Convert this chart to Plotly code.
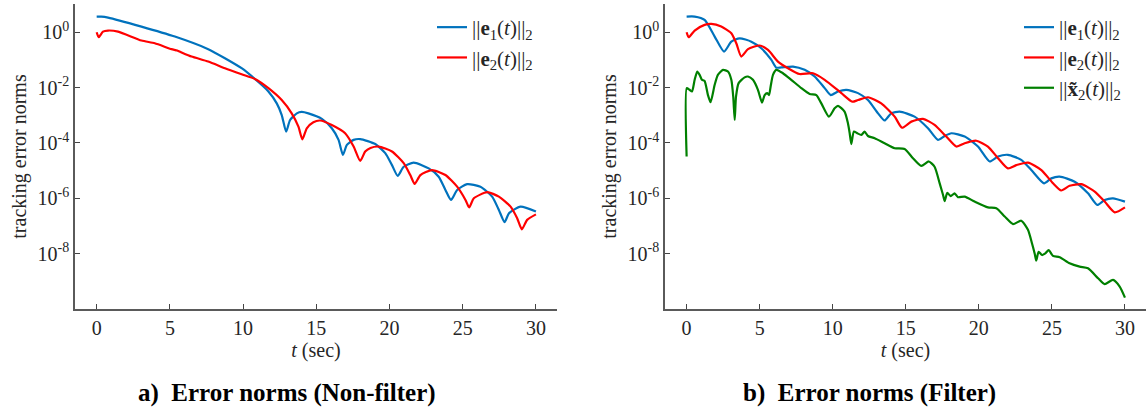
import plotly.graph_objects as go

# ---------------- data ----------------
# (a) Non-filter
t_a_e1 = [0, 0.32, 0.78, 3.06, 5.34, 7.62, 8.76, 9.9, 10.81, 11.73, 12.3, 12.64, 12.94,
          13.21, 13.67, 14.0, 14.46, 15.38, 16.06, 16.52, 16.82, 17.09, 17.55, 18.0,
          19.03, 19.71, 20.17, 20.56, 20.97, 21.65, 22.68, 23.36, 23.82, 24.2, 24.62,
          25.3, 26.21, 27.01, 27.47, 27.86, 28.16, 28.95, 30]
a_e1 = [3.68, 3.68, 3.39, 1.60, 0.697, 0.245, 0.115, 0.0501, 0.0204, 7.24e-3, 2.69e-3,
        1.02e-3, 2.57e-4, 6.76e-4, 1.17e-3, 1.32e-3, 1.17e-3, 7.41e-4, 3.39e-4, 1.29e-4,
        3.72e-5, 8.51e-5, 1.29e-4, 1.38e-4, 9.12e-5, 4.27e-5, 1.58e-5, 6.46e-6, 1.38e-5,
        1.95e-5, 1.20e-5, 6.03e-6, 2.00e-6, 8.71e-7, 2.00e-6, 3.24e-6, 2.63e-6, 1.15e-6,
        3.80e-7, 1.38e-7, 2.88e-7, 5.01e-7, 3.31e-7]

t_a_e2 = [0, 0.14, 0.43, 0.78, 1.46, 3.06, 3.97, 5.11, 5.5, 5.8, 6.48, 7.62, 8.76, 9.9,
          10.81, 11.73, 12.64, 13.32, 13.78, 14.05, 14.35, 14.8, 15.26, 16.06, 16.97,
          17.55, 18.0, 18.34, 18.7, 19.26, 20.17, 20.97, 21.42, 21.72, 22.11, 22.9,
          23.82, 24.62, 25.19, 25.44, 25.76, 26.67, 27.47, 28.27, 28.72, 29.04, 29.4, 30]
a_e2 = [1.0, 0.661, 1.05, 1.15, 1.05, 0.501, 0.398, 0.245, 0.219, 0.186, 0.132, 0.0871,
        0.0501, 0.0302, 0.0204, 9.55e-3, 3.55e-3, 1.17e-3, 3.89e-4, 1.35e-4, 3.39e-4,
        5.62e-4, 6.46e-4, 4.47e-4, 2.24e-4, 7.41e-5, 2.24e-5, 4.90e-5, 6.6e-5, 7.41e-5,
        4.90e-5, 1.86e-5, 6.92e-6, 3.31e-6, 6.92e-6, 1.05e-5, 6.92e-6, 2.63e-6, 8.71e-7,
        4.68e-7, 1.0e-6, 1.66e-6, 1.15e-6, 5.01e-7, 1.91e-7, 7.59e-8, 1.66e-7, 2.63e-7]

# (b) Filter
t_b_e1 = [0, 0.55, 1.23, 1.92, 2.56, 3.06, 3.63, 4.43, 5.11, 5.8, 6.14, 6.48, 7.28, 8.08,
          8.76, 9.45, 9.86, 10.36, 10.93, 11.73, 12.41, 13.1, 13.55, 14.0, 14.58, 15.6,
          16.52, 17.2, 17.66, 18.12, 19.03, 19.94, 20.74, 21.31, 21.99, 22.9, 23.59,
          24.46, 24.96, 25.53, 26.56, 27.47, 28.11, 28.61, 29.18, 30]
b_e1 = [3.68, 3.68, 2.79, 0.697, 0.200, 0.457, 0.603, 0.457, 0.263, 0.100, 0.0525,
        0.0537, 0.0575, 0.0437, 0.0251, 9.55e-3, 5.37e-3, 7.24e-3, 8.32e-3, 6.31e-3,
        3.55e-3, 1.17e-3, 6.46e-4, 1.17e-3, 1.35e-3, 8.91e-4, 3.39e-4, 1.29e-4, 1.78e-4,
        2.24e-4, 1.70e-4, 7.41e-5, 2.14e-5, 3.24e-5, 3.72e-5, 2.45e-5, 1.05e-5, 3.47e-6,
        5.25e-6, 6.03e-6, 3.98e-6, 1.51e-6, 5.75e-7, 8.71e-7, 1.0e-6, 7.59e-7]

t_b_e2 = [0, 0.14, 0.55, 1.23, 1.69, 2.37, 3.06, 3.4, 3.74, 4.2, 5.0, 5.57, 6.25, 6.94,
          7.73, 8.65, 9.45, 10.59, 11.34, 11.73, 12.41, 13.32, 14.24, 14.74, 15.38,
          16.18, 16.97, 17.77, 18.46, 19.03, 19.83, 20.62, 21.31, 21.99, 22.56, 23.36,
          24.28, 25.08, 25.64, 26.21, 27.01, 27.93, 28.61, 29.3, 30]
b_e2 = [1.0, 0.661, 1.15, 1.84, 2.0, 1.60, 0.920, 0.398, 0.132, 0.245, 0.331, 0.229,
        0.0871, 0.0501, 0.0309, 0.0331, 0.0191, 6.31e-3, 3.09e-3, 3.55e-3, 4.47e-3,
        2.69e-3, 8.91e-4, 3.55e-4, 5.89e-4, 7.41e-4, 4.47e-4, 1.70e-4, 7.41e-5, 9.77e-5,
        1.20e-4, 7.41e-5, 2.82e-5, 1.20e-5, 1.58e-5, 1.95e-5, 1.05e-5, 3.47e-6, 1.91e-6,
        2.82e-6, 3.24e-6, 1.74e-6, 7.59e-7, 3.09e-7, 4.68e-7]

t_b_x2 = [0, 0.01, 0.2, 0.37, 0.55, 0.73, 0.89, 1.05, 1.23, 1.46, 1.64, 1.92, 2.14, 2.49,
          2.83, 3.06, 3.19, 3.29, 3.38, 3.56, 3.97, 4.2, 4.54, 4.88, 5.16, 5.34, 5.52,
          5.64, 5.75, 5.91, 6.14, 6.59, 7.16, 7.85, 8.42, 8.88, 9.22, 9.74, 10.13, 10.36,
          10.81, 11.04, 11.16, 11.27, 11.45, 11.68, 11.96, 12.18, 12.41, 12.87, 13.55,
          14.24, 14.92, 15.49, 16.06, 16.58, 16.97, 17.32, 17.55, 17.66, 17.84, 18.07,
          18.34, 18.57, 19.03, 19.71, 20.62, 21.2, 21.77, 22.34, 22.9, 23.36, 23.64,
          23.82, 23.93, 24.09, 24.32, 24.55, 24.78, 25.07, 25.53, 26.21, 26.9, 27.47,
          28.16, 28.61, 29.18, 29.64, 30]
b_x2 = [3.24e-5, 9.55e-3, 8.32e-3, 7.24e-3, 0.0191, 0.0380, 0.0288, 0.0191, 0.0174,
        5.37e-3, 2.95e-3, 0.0126, 0.0288, 0.0437, 0.0380, 0.0191, 4.68e-3, 6.76e-4,
        4.68e-3, 0.0145, 0.0234, 0.0251, 0.0191, 8.32e-3, 2.88e-3, 5.37e-3, 6.31e-3,
        5.37e-3, 0.0110, 0.0288, 0.0437, 0.0331, 0.0191, 9.55e-3, 5.89e-3, 5.37e-3,
        2.69e-3, 8.91e-4, 1.78e-3, 2.19e-3, 1.35e-3, 5.13e-4, 2.24e-4, 9.12e-5, 2.57e-4,
        2.24e-4, 1.95e-4, 2.57e-4, 1.78e-4, 1.48e-4, 9.77e-5, 6.46e-5, 6.03e-5, 2.82e-5,
        1.48e-5, 2.14e-5, 1.38e-5, 3.47e-6, 1.32e-6, 7.94e-7, 1.58e-6, 1.20e-6, 1.51e-6,
        1.10e-6, 1.15e-6, 7.59e-7, 4.68e-7, 4.37e-7, 2.19e-7, 1.17e-7, 1.55e-7, 7.24e-8,
        2.34e-8, 1.02e-8, 5.62e-9, 1.17e-8, 8.91e-9, 1.02e-8, 1.35e-8, 8.32e-9, 7.41e-9,
        4.47e-9, 3.39e-9, 2.95e-9, 1.29e-9, 7.94e-10, 1.12e-9, 6.46e-10, 2.57e-10]

x_ticks = [0, 5, 10, 15, 20, 25, 30]
y_ticks = [1, 1e-2, 1e-4, 1e-6, 1e-8]
y_tick_text = ["10<sup>0</sup>", "10<sup>-2</sup>", "10<sup>-4</sup>",
               "10<sup>-6</sup>", "10<sup>-8</sup>"]

name_e1 = "||<b>e</b><sub>1</sub>(<i>t</i>)||<sub>2</sub>"
name_e2 = "||<b>e</b><sub>2</sub>(<i>t</i>)||<sub>2</sub>"
name_x2 = "||<b>x\u0303</b><sub>2</sub>(<i>t</i>)||<sub>2</sub>"
captions = ["a)  Error norms (Non-filter)", "b)  Error norms (Filter)"]

BLUE, RED, GREEN = "#0072BD", "#FF0000", "#008000"
FONT = "Liberation Serif"
LW = 2.2

fig = go.Figure()
common = dict(mode="lines", line_shape="spline")
fig.add_trace(go.Scatter(x=t_a_e1, y=a_e1, name=name_e1, line=dict(color=BLUE, width=LW, smoothing=0.6),
                         xaxis="x", yaxis="y", legend="legend", **common))
fig.add_trace(go.Scatter(x=t_a_e2, y=a_e2, name=name_e2, line=dict(color=RED, width=LW, smoothing=0.6),
                         xaxis="x", yaxis="y", legend="legend", **common))
fig.add_trace(go.Scatter(x=t_b_e1, y=b_e1, name=name_e1, line=dict(color=BLUE, width=LW, smoothing=0.6),
                         xaxis="x2", yaxis="y2", legend="legend2", **common))
fig.add_trace(go.Scatter(x=t_b_e2, y=b_e2, name=name_e2, line=dict(color=RED, width=LW, smoothing=0.6),
                         xaxis="x2", yaxis="y2", legend="legend2", **common))
fig.add_trace(go.Scatter(x=t_b_x2, y=b_x2, name=name_x2, line=dict(color=GREEN, width=LW, smoothing=0.6),
                         xaxis="x2", yaxis="y2", legend="legend2", **common))

W, H = 1148, 414
xdom1 = [75 / W, 557 / W]
xdom2 = [665 / W, 1146 / W]
ydom = [1 - 309 / H, 1 - 4 / H]

axis_common = dict(showline=True, linecolor="#5a5a5a", linewidth=1.5, showgrid=False,
                   zeroline=False, ticks="inside", ticklen=5, tickwidth=1, tickcolor="#444",
                   tickfont=dict(family=FONT, size=20, color="#262626"))
xcommon = dict(axis_common, range=[-1.48, 31.44], tickvals=x_ticks,
               title=dict(text="<i>t</i> (sec)", font=dict(family=FONT, size=20, color="#262626"),
                          standoff=4))
ycommon = dict(axis_common, type="log", range=[-10, 1.02], tickvals=y_ticks, ticktext=y_tick_text,
               title=dict(text="tracking error norms", font=dict(family=FONT, size=20, color="#262626"),
                          standoff=6))

legend_common = dict(font=dict(family=FONT, size=21, color="#262626"), bgcolor="rgba(0,0,0,0)",
                     borderwidth=0, itemwidth=30, tracegroupgap=0, yanchor="top", xanchor="right",
                     itemclick=False)

fig.update_layout(
    width=W, height=H,
    margin=dict(l=0, r=0, t=0, b=0),
    paper_bgcolor="white", plot_bgcolor="white",
    font=dict(family=FONT),
    showlegend=True,
    xaxis=dict(xcommon, domain=xdom1, anchor="y"),
    yaxis=dict(ycommon, domain=ydom, anchor="x"),
    xaxis2=dict(xcommon, domain=xdom2, anchor="y2"),
    yaxis2=dict(ycommon, domain=ydom, anchor="x2"),
    legend=dict(legend_common, x=538 / W, y=1 - 7 / H),
    legend2=dict(legend_common, x=1126 / W, y=1 - 7 / H),
    annotations=[
        dict(text="<b>" + captions[0] + "</b>", x=0.25, y=1 - 393 / H, xref="paper", yref="paper",
             showarrow=False, xanchor="center", yanchor="middle",
             font=dict(family=FONT, size=25, color="black")),
        dict(text="<b>" + captions[1] + "</b>", x=0.757, y=1 - 393 / H, xref="paper", yref="paper",
             showarrow=False, xanchor="center", yanchor="middle",
             font=dict(family=FONT, size=25, color="black")),
    ],
)

fig.write_html("out.html")
